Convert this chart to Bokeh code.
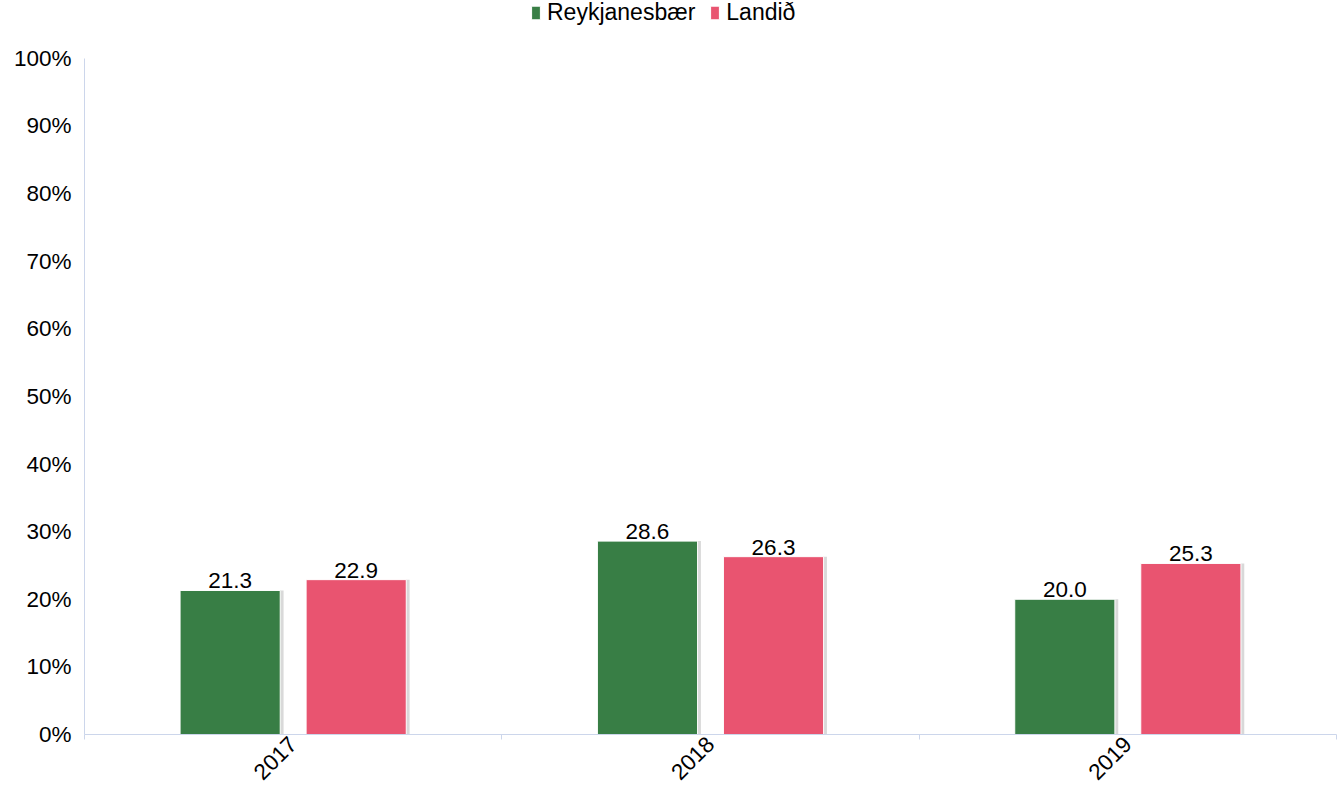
import math
from bokeh.plotting import figure
from bokeh.models import (ColumnDataSource, Range1d, FixedTicker, Legend, LegendItem,
                          CustomJSTickFormatter, LabelSet)
from bokeh.core.properties import value
from bokeh.transform import dodge
from bokeh.embed import file_html
from bokeh.resources import INLINE

# ---- data ----
years = ["2017", "2018", "2019"]
reykjanesbaer = [21.3, 28.6, 20.0]
landid = [22.9, 26.3, 25.3]
series_names = ["Reykjanesbær", "Landið"]
y_ticks = [0, 10, 20, 30, 40, 50, 60, 70, 80, 90, 100]

GREEN = "#387e45"
PINK = "#e95470"
FONT = "Liberation Sans"
FS = "22.5px"

xc = [i + 0.5 for i in range(len(years))]
src = ColumnDataSource(dict(
    x=xc, year=years, a=reykjanesbaer, b=landid,
    la=[f"{v:.1f}" for v in reykjanesbaer], lb=[f"{v:.1f}" for v in landid],
))

# frame extends above 100% to host the legend; axis drawn only 0..100
Y_TOP = 108.55
p = figure(width=1340, height=789, output_backend="svg", toolbar_location=None,
           x_range=Range1d(0, len(years)), y_range=Range1d(0, Y_TOP),
           min_border_left=84, min_border_right=4, min_border_top=0, min_border_bottom=50)
p.outline_line_color = None
p.xgrid.grid_line_color = None
p.ygrid.grid_line_color = None
p.background_fill_color = "white"
p.border_fill_color = "white"

off = 0.151
w = 0.24
shadow = 0.008
p.vbar(x=dodge("x", -off + shadow, range=p.x_range), top="a", width=w, bottom=0, source=src,
       fill_color="#d9d9d9", line_color=None)
p.vbar(x=dodge("x", off + shadow, range=p.x_range), top="b", width=w, bottom=0, source=src,
       fill_color="#d9d9d9", line_color=None)
ra = p.vbar(x=dodge("x", -off, range=p.x_range), top="a", width=w, bottom=0, source=src,
            fill_color=GREEN, line_color="white", line_width=1)
rb = p.vbar(x=dodge("x", off, range=p.x_range), top="b", width=w, bottom=0, source=src,
            fill_color=PINK, line_color="white", line_width=1)

for col, lab, o in (("a", "la", -off), ("b", "lb", off)):
    p.add_layout(LabelSet(x=dodge("x", o, range=p.x_range), y=col, text=lab, source=src,
                          text_align="center", text_baseline="bottom", y_offset=2,
                          text_font=value(FONT), text_font_size=FS, text_color="#000000"))

# y axis
p.yaxis.ticker = FixedTicker(ticks=y_ticks)
p.yaxis.bounds = (0, 100)
p.yaxis.formatter = CustomJSTickFormatter(code="return tick + '%';")
p.yaxis.major_label_text_font = FONT
p.yaxis.major_label_text_font_size = FS
p.yaxis.major_label_text_color = "#000000"
p.yaxis.major_tick_line_color = None
p.yaxis.minor_tick_line_color = None
p.yaxis.axis_line_color = "#ccd6eb"
p.yaxis.major_label_standoff = 7

# x axis
p.xaxis.ticker = FixedTicker(ticks=xc, minor_ticks=list(range(len(years) + 1)))
p.xaxis.major_label_overrides = {v: y for v, y in zip(xc, years)}
p.xaxis.major_label_orientation = math.pi / 4
p.xaxis.major_label_text_font = FONT
p.xaxis.major_label_text_font_size = FS
p.xaxis.major_label_text_color = "#000000"
p.xaxis.major_tick_line_color = None
p.xaxis.minor_tick_line_color = "#ccd6eb"
p.xaxis.minor_tick_out = 5
p.xaxis.minor_tick_in = 0
p.xaxis.axis_line_color = "#ccd6eb"
p.xaxis.major_label_standoff = 0

legend = Legend(items=[LegendItem(label=series_names[0], renderers=[ra]),
                       LegendItem(label=series_names[1], renderers=[rb])],
                orientation="horizontal", location=(446, 708),
                label_text_font=FONT, label_text_font_size="23px", label_text_color="#000000",
                glyph_width=11, glyph_height=17, spacing=14, label_standoff=6,
                border_line_color=None, background_fill_alpha=0, padding=2, margin=0)
p.add_layout(legend, "center")

open("out.html", "w").write(file_html(p, INLINE))
